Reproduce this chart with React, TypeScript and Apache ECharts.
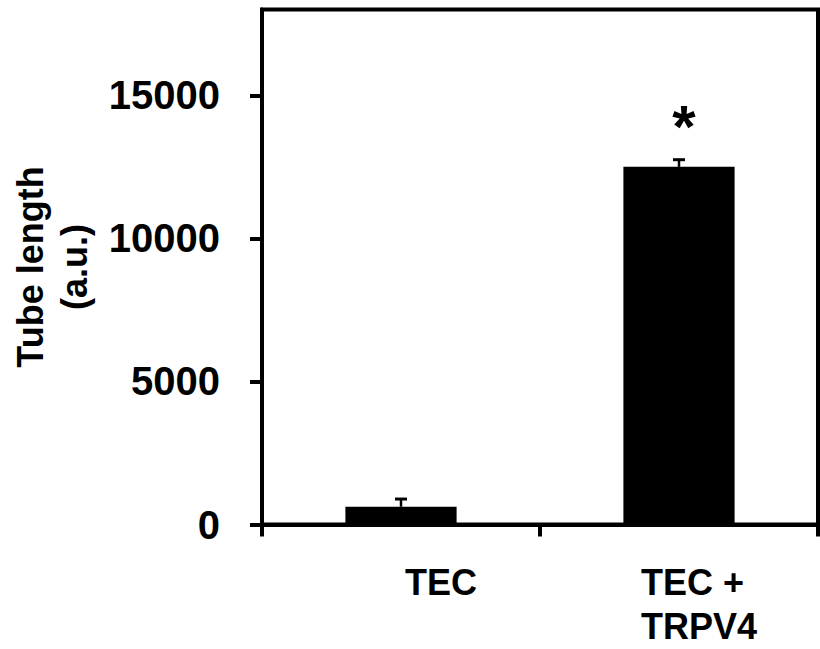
import React, { useEffect, useRef } from 'react';
import * as echarts from 'echarts';

const categories = ['TEC', 'TEC +\nTRPV4'];
const meanValues = [620, 12500];
const errorValues = [270, 250];
const significance = ['', '*'];
const yTicks = [0, 5000, 10000, 15000];
const yMax = 18000;
const yAxisName = 'Tube length\n(a.u.)';
const labelShift = [80, 40];

export default function App() {
  const ref = useRef<HTMLDivElement>(null);
  useEffect(() => {
    if (!ref.current) return;
    const chart = echarts.init(ref.current, null, { renderer: 'svg' });
    const font = '"Liberation Sans", Arial, sans-serif';
    const rich: Record<string, any> = {};
    labelShift.forEach((p, i) => {
      rich['c' + i] = {
        padding: [0, 0, 0, p],
        align: 'left',
        fontSize: 36,
        fontWeight: 'bold',
        fontFamily: font,
        lineHeight: 44,
        color: '#000',
      };
    });
    chart.setOption({
      animation: false,
      grid: {
        left: 262,
        right: 2,
        top: 9.5,
        bottom: 124.5,
        show: true,
        borderColor: '#000',
        borderWidth: 4,
        backgroundColor: 'transparent',
        containLabel: false,
        outerBoundsMode: 'none',
      },
      xAxis: {
        type: 'category',
        data: categories,
        axisLine: { lineStyle: { color: '#000', width: 4 } },
        axisTick: { show: true, length: 12, lineStyle: { color: '#000', width: 4 } },
        axisLabel: {
          interval: 0,
          margin: 36,
          fontSize: 36,
          fontWeight: 'bold',
          fontFamily: font,
          lineHeight: 44,
          color: '#000',
          formatter: (value: string, index: number) =>
            value
              .split('\n')
              .map((l) => `{c${index}|${l}}`)
              .join('\n'),
          rich,
        },
      },
      yAxis: {
        type: 'value',
        min: 0,
        max: yMax,
        interval: 5000,
        name: yAxisName,
        nameLocation: 'middle',
        nameGap: 166,
        nameMoveOverlap: false,
        nameTextStyle: {
          fontSize: 36,
          fontWeight: 'bold',
          fontFamily: font,
          lineHeight: 44,
          color: '#000',
        },
        axisLine: { show: true, lineStyle: { color: '#000', width: 4 } },
        axisTick: {
          show: true,
          length: 12,
          customValues: yTicks,
          lineStyle: { color: '#000', width: 4 },
        },
        axisLabel: {
          customValues: yTicks,
          margin: 42,
          fontSize: 40,
          fontWeight: 'bold',
          fontFamily: font,
          color: '#000',
          formatter: (v: number) => String(v),
        },
        splitLine: { show: false },
      },
      series: [
        {
          type: 'bar',
          barWidth: '40%',
          itemStyle: { color: '#000' },
          label: {
            position: 'top',
            distance: 10,
            offset: [5, 0],
            fontSize: 60,
            fontWeight: 'bold',
            fontFamily: font,
            color: '#000',
          },
          data: meanValues.map((v, i) => ({
            value: v,
            label: { show: significance[i] !== '', formatter: significance[i] },
          })),
        },
        {
          type: 'custom',
          z: 5,
          encode: { x: 0, y: 1 },
          data: meanValues.map((v, i) => [i, v, errorValues[i]]),
          renderItem: (params: any, api: any) => {
            const base = api.coord([api.value(0), api.value(1)]);
            const top = api.coord([api.value(0), api.value(1) + api.value(2)]);
            const half = 6;
            return {
              type: 'group',
              children: [
                {
                  type: 'line',
                  shape: { x1: base[0], y1: base[1], x2: top[0], y2: top[1] },
                  style: { stroke: '#000', lineWidth: 2.5 },
                },
                {
                  type: 'line',
                  shape: { x1: top[0] - half, y1: top[1], x2: top[0] + half, y2: top[1] },
                  style: { stroke: '#000', lineWidth: 3 },
                },
              ],
            };
          },
        },
      ],
    });
    return () => chart.dispose();
  }, []);
  return (
    <div
      ref={ref}
      style={{ position: 'absolute', left: 0, top: 0, width: 820, height: 649 }}
    />
  );
}
